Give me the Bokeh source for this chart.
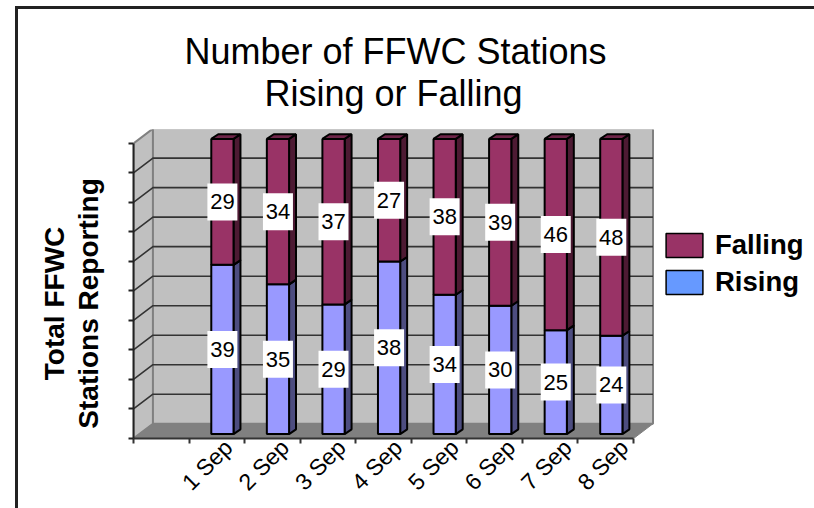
from math import pi
from bokeh.plotting import figure
from bokeh.embed import file_html
from bokeh.resources import INLINE
from bokeh.models import (Range1d, LinearAxis, FixedTicker, Legend, LegendItem, Title, ColumnDataSource)
from bokeh.core.properties import value

categories = ["1 Sep", "2 Sep", "3 Sep", "4 Sep", "5 Sep", "6 Sep", "7 Sep", "8 Sep"]
rising = [39, 35, 29, 38, 34, 30, 25, 24]
falling = [29, 34, 37, 27, 38, 39, 46, 48]
title_line_1 = "Number of FFWC Stations"
title_line_2 = "Rising or Falling"
y_label_1 = "Total FFWC"
y_label_2 = "Stations Reporting"

FONT = "Liberation Sans"
p = figure(width=799, height=502, output_backend="svg", toolbar_location=None,
           x_range=Range1d(0, 12.185), y_range=Range1d(0, 104.7),
           x_axis_type=None, y_axis_type=None,
           min_border_left=115, min_border_right=7, min_border_top=120, min_border_bottom=73)
p.margin = (6, 0, 0, 15)
p.styles = {"border-left": "3px solid #222222", "border-top": "3px solid #222222"}
p.grid.visible = False
p.outline_line_color = None
p.background_fill_color = "white"
p.border_fill_color = "white"

p.title = Title(text=title_line_1 + "\n" + "\u00a0" * 8 + title_line_2, align="left", offset=51,
                text_font=FONT, text_font_size="36px", text_font_style="normal",
                text_color="black", text_line_height=1.03, standoff=31)

# legend swatches: proxies hidden behind the wall
DX, DY = 0.35, 5.0
n = len(categories) + 1
r_f = p.quad(left=[1], right=[2], top=[falling[0]], bottom=[rising[0]], fill_color="#993366", line_color="black", line_width=1.5)
r_r = p.quad(left=[1], right=[2], top=[rising[0]], bottom=[0], fill_color="#6699FF", line_color="black", line_width=1.5)

# 3-D walls, in slot units and percent
p.patch([0, DX, DX, 0], [0, DY, 100 + DY, 100], fill_color="#C0C0C0", line_color="#808080", line_width=2)
p.quad(left=[DX], right=[n + DX], bottom=[DY], top=[100 + DY], fill_color="#C0C0C0", line_color="#808080", line_width=2)
p.patch([0, n, n + DX, DX], [0, 0, DY, DY], fill_color="#808080", line_color="#808080")
levels = list(range(10, 100, 10))
p.multi_line([[0, DX, n + DX] for _ in levels], [[k, k + DY, k + DY] for k in levels],
             line_color="#333333", line_width=1.6)

# bars
BW, BDX, BDY, SHIFT, LIFT = 0.4, 0.125, 1.6, 0.1, 1.5
src = []
for i, (r, f) in enumerate(zip(rising, falling)):
    total = r + f
    src.append((i + 1.5 + SHIFT, 100 * r / total))
lefts = [c - BW / 2 for c, _ in src]
rights = [c + BW / 2 for c, _ in src]
splits = [s + LIFT for _, s in src]
base = LIFT
top = 100 + LIFT

def segment(lo_list, hi_list, front, side, cap):
    for l, rr, lo, hi in zip(lefts, rights, lo_list, hi_list):
        p.patch([rr, rr + BDX, rr + BDX, rr], [lo, lo + BDY, hi + BDY, hi],
                fill_color=side, line_color="black", line_width=2)
        p.patch([l, rr, rr + BDX, l + BDX], [hi, hi, hi + BDY, hi + BDY],
                fill_color=cap, line_color="black", line_width=2)
    p.quad(left=lefts, right=rights, bottom=lo_list, top=hi_list,
           fill_color=front, line_color="black", line_width=2)

segment([base] * len(src), splits, "#9999FF", "#4D4D80", "#7A7ACC")
segment(splits, [top] * len(src), "#993366", "#4D1A33", "#6E2549")

# value labels
xc = [c for c, _ in src]
ys = [(base + s) / 2 for s in splits] + [(s + top) / 2 for s in splits]
lab = ColumnDataSource(dict(x=xc + xc, y=ys, t=[str(v) for v in rising + falling]))
p.rect(x="x", y="y", width=30, height=37, width_units="screen", height_units="screen",
       source=lab, fill_color="white", line_color=None)
p.text(x="x", y="y", text="t", source=lab, text_font=value(FONT), text_font_size="22px",
       text_align="center", text_baseline="middle", text_color="black")

# axes
yaxis = LinearAxis(ticker=FixedTicker(ticks=list(range(0, 101, 10))), bounds=(0, 100),
                   axis_line_color="#222222", axis_line_width=2, major_tick_line_color="#222222",
                   major_tick_line_width=2, major_tick_in=0, major_tick_out=5,
                   major_label_text_font_size="0px", major_label_standoff=0)
yaxis.major_label_text_color = None
p.add_layout(yaxis, "left")

PAD = "\u00a0" * 5
for txt, standoff in ((y_label_2, 25), (y_label_1, 0)):
    ax = LinearAxis(ticker=FixedTicker(ticks=[]), axis_line_color=None,
                    major_tick_line_color=None, minor_tick_line_color=None,
                    major_label_text_font_size="0px", major_label_standoff=0,
                    axis_label=txt + PAD, axis_label_standoff=standoff, axis_label_text_font=FONT,
                    axis_label_text_font_size="28px", axis_label_text_font_style="bold",
                    axis_label_text_color="black")
    p.add_layout(ax, "left")

xticks = LinearAxis(ticker=FixedTicker(ticks=list(range(0, n + 1))), bounds=(0, n),
                    axis_line_color="#333333", axis_line_width=2, major_tick_line_color="#333333",
                    major_tick_line_width=2, major_tick_in=0, major_tick_out=5,
                    major_label_text_font_size="0px", major_label_standoff=0)
xticks.major_label_text_color = None
p.add_layout(xticks, "below")

label_ticks = [1.71 + 1.017 * i for i in range(len(categories))]
xlabels = LinearAxis(ticker=FixedTicker(ticks=label_ticks), bounds=(0, n), axis_line_color=None,
                     major_tick_line_color=None, major_tick_in=0, major_tick_out=0,
                     major_label_overrides=dict(zip(label_ticks, categories)),
                     major_label_orientation=pi / 4, major_label_standoff=0,
                     major_label_text_font=FONT, major_label_text_font_size="23px",
                     major_label_text_color="black")
p.add_layout(xlabels, "below")

# legend
legend = Legend(items=[LegendItem(label="Falling", renderers=[r_f]), LegendItem(label="Rising", renderers=[r_r])],
                location=(528, 140), orientation="vertical", glyph_width=46, glyph_height=30,
                label_text_font=FONT, label_text_font_size="27.5px", label_text_font_style="bold",
                label_text_color="black", label_standoff=8, spacing=5, padding=0, margin=0,
                border_line_color=None, background_fill_color=None, background_fill_alpha=0,
                label_height=24)
p.add_layout(legend)

open("out.html", "w").write(file_html(p, INLINE))
